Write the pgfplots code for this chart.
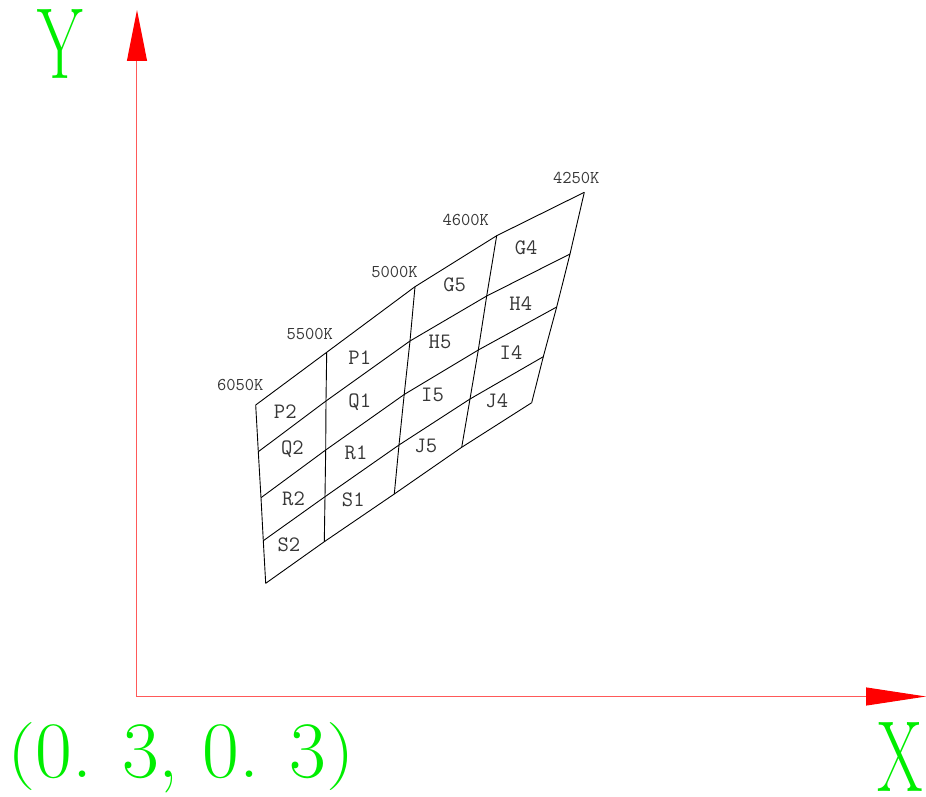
\documentclass[border=0pt]{standalone}
\usepackage{graphicx}
\usepackage{xcolor}
\usepackage{pgfplots}
\pgfplotsset{compat=1.18}
\usetikzlibrary{arrows.meta}
\definecolor{lblgreen}{RGB}{0,238,0}
\definecolor{lbltext}{RGB}{55,55,55}

\begin{document}
\begin{tikzpicture}
\begin{axis}[
    scale only axis,
    width=789pt, height=686.5pt,
    xmin=0.3, xmax=0.3789,
    ymin=0.3, ymax=0.36865,
    axis lines=left,
    axis line style={red!65, line width=1pt},
    x axis line style={-{Triangle[length=60pt,width=18pt,color=red]}},
    y axis line style={-{Triangle[length=51pt,width=20pt,color=red]}},
    xtick=\empty, ytick=\empty,
    clip=false
]
% columns (isotherms)
\addplot[black, line width=0.9pt] coordinates {(0.31187,0.32915)(0.31213,0.32448)(0.31240,0.31988)(0.31263,0.31558)(0.31287,0.31132)};
\addplot[black, line width=0.9pt] coordinates {(0.31897,0.33442)(0.31890,0.32955)(0.31887,0.32465)(0.31880,0.31998)(0.31873,0.31548)};
\addplot[black, line width=0.9pt] coordinates {(0.32780,0.34098)(0.32730,0.33555)(0.32672,0.33020)(0.32620,0.32515)(0.32573,0.32025)};
\addplot[black, line width=0.9pt] coordinates {(0.33597,0.34608)(0.33497,0.34005)(0.33413,0.33465)(0.33330,0.32975)(0.33247,0.32492)};
\addplot[black, line width=0.9pt] coordinates {(0.34473,0.35042)(0.34330,0.34425)(0.34197,0.33895)(0.34063,0.33398)(0.33947,0.32938)};
% rows
\addplot[black, line width=0.9pt] coordinates {(0.31187,0.32915)(0.31897,0.33442)(0.32780,0.34098)(0.33597,0.34608)(0.34473,0.35042)};
\addplot[black, line width=0.9pt] coordinates {(0.31213,0.32448)(0.31890,0.32955)(0.32730,0.33555)(0.33497,0.34005)(0.34330,0.34425)};
\addplot[black, line width=0.9pt] coordinates {(0.31240,0.31988)(0.31887,0.32465)(0.32672,0.33020)(0.33413,0.33465)(0.34197,0.33895)};
\addplot[black, line width=0.9pt] coordinates {(0.31263,0.31558)(0.31880,0.31998)(0.32620,0.32515)(0.33330,0.32975)(0.34063,0.33398)};
\addplot[black, line width=0.9pt] coordinates {(0.31287,0.31132)(0.31873,0.31548)(0.32573,0.32025)(0.33247,0.32492)(0.33947,0.32938)};

% CCT labels
\begin{scope}[every node/.style={inner sep=0pt, text=lbltext, font=\ttfamily\fontsize{18pt}{18pt}\selectfont}]
\node at (axis cs:0.31033,0.33110) {6050K};
\node at (axis cs:0.31727,0.33627) {5500K};
\node at (axis cs:0.32575,0.34240) {5000K};
\node at (axis cs:0.33287,0.34763) {4600K};
\node at (axis cs:0.34392,0.35182) {4250K};
\end{scope}
% bin labels
\begin{scope}[every node/.style={inner sep=0pt, text=lbltext, font=\ttfamily\fontsize{22pt}{22pt}\selectfont}]
\node at (axis cs:0.31483,0.32848) {P2};
\node at (axis cs:0.31555,0.32475) {Q2};
\node at (axis cs:0.31565,0.31982) {R2};
\node at (axis cs:0.31520,0.31515) {S2};
\node at (axis cs:0.32228,0.33390) {P1};
\node at (axis cs:0.32228,0.32948) {Q1};
\node at (axis cs:0.32190,0.32440) {R1};
\node at (axis cs:0.32163,0.31965) {S1};
\node at (axis cs:0.33177,0.34115) {G5};
\node at (axis cs:0.33030,0.33548) {H5};
\node at (axis cs:0.32955,0.33015) {I5};
\node at (axis cs:0.32888,0.32505) {J5};
\node at (axis cs:0.33892,0.34492) {G4};
\node at (axis cs:0.33838,0.33932) {H4};
\node at (axis cs:0.33740,0.33442) {I4};
\node at (axis cs:0.33598,0.32957) {J4};
\end{scope}

% axis names and origin
\node[inner sep=0pt, text=lblgreen] at (axis cs:0.2923,0.36525)
    {\scalebox{0.65}[1]{\fontsize{101pt}{101pt}\selectfont Y}};
\node[inner sep=0pt, text=lblgreen] at (axis cs:0.3763,0.29395)
    {\scalebox{0.65}[1]{\fontsize{101pt}{101pt}\selectfont X}};
\node[inner sep=0pt, anchor=base west, text=lblgreen] at (axis cs:0.2870,0.29195)
    {\fontsize{80pt}{80pt}\selectfont \raisebox{4pt}{\scalebox{1}[0.85]{(}}0.\hspace{30pt}3,\hspace{24pt}0.\hspace{30pt}3\raisebox{4pt}{\scalebox{1}[0.85]{)}}};
\end{axis}
\pgfresetboundingbox
\path[use as bounding box] ([shift={(-137pt,-99.5pt)}]current axis.south west)
    rectangle ([shift={(0pt,10pt)}]current axis.north east);
\end{tikzpicture}
\end{document}
